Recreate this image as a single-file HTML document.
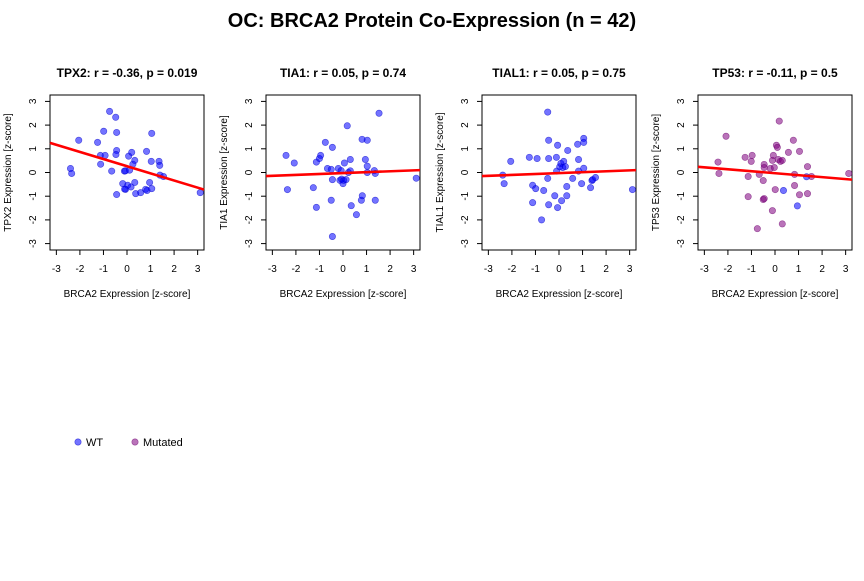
<!DOCTYPE html>
<html><head><meta charset="utf-8"><style>
body{margin:0;background:#fff}
svg{font-family:"Liberation Sans",Arial,sans-serif}
</style></head><body>
<svg id="chart" width="864" height="576">
<text x="432" y="27" text-anchor="middle" font-size="20" font-weight="bold">OC: BRCA2 Protein Co-Expression (n = 42)</text>
<g>
<circle cx="78" cy="442" r="3.2" fill="rgba(0,0,255,0.55)" stroke="rgba(0,0,200,0.6)" stroke-width="0.6"/>
<text x="86" y="446" font-size="11">WT</text>
<circle cx="135" cy="442" r="3.2" fill="rgba(128,0,128,0.55)" stroke="rgba(110,0,110,0.6)" stroke-width="0.6"/>
<text x="143" y="446" font-size="11">Mutated</text>
</g>
</svg>
<script>
const genes = ["TPX2","TIA1","TIAL1","TP53"];
const titles = ["TPX2: r = -0.36, p = 0.019","TIA1: r = 0.05, p = 0.74","TIAL1: r = 0.05, p = 0.75","TP53: r = -0.11, p = 0.5"];
const ticks = [-3,-2,-1,0,1,2,3];
const p1x = [-2.4,-2.35,-2.05,-1.25,-1.13,-1.12,-0.93,-0.99,-0.74,-0.65,-0.48,-0.44,-0.44,-0.47,-0.44,-0.18,-0.11,-0.07,-0.06,0.03,0.07,0.11,0.17,0.2,0.25,0.33,0.33,0.37,0.58,0.79,0.85,0.83,0.96,1.03,1.05,1.05,1.36,1.39,1.4,1.55,3.11,-0.1];
const p1y = [0.17,-0.04,1.36,1.27,0.72,0.35,0.72,1.74,2.58,0.06,2.33,1.69,0.93,0.76,-0.93,-0.47,0.06,0.07,-0.71,-0.54,0.69,0.1,-0.61,0.85,0.35,0.51,-0.42,-0.89,-0.85,-0.71,-0.76,0.89,-0.42,0.47,1.65,-0.68,0.47,0.3,-0.11,-0.17,-0.85,-0.7];
const p2x = [-2.42,-2.36,-2.07,-1.26,-1.13,-1.13,-1.0,-0.95,-0.75,-0.66,-0.5,-0.45,-0.45,-0.5,-0.45,-0.2,-0.13,-0.08,-0.06,0,0.03,0.06,0.13,0.18,0.23,0.31,0.31,0.35,0.57,0.78,0.82,0.81,0.95,1.03,1.03,1.03,1.33,1.37,1.37,1.53,3.11];
const p2y = [0.72,-0.72,0.4,-0.64,0.44,-1.47,0.59,0.72,1.27,0.17,0.13,1.06,-0.3,-1.17,-2.7,0.17,-0.33,0.08,-0.28,-0.47,-0.33,0.4,-0.3,1.97,0,0.55,0.07,-1.4,-1.78,-1.17,-0.98,1.4,0.55,0.27,0,1.36,0.08,-0.04,-1.17,2.5,-0.24];
const p3x = [-2.39,-2.33,-2.05,-1.26,-1.12,-1.12,-0.99,-0.93,-0.74,-0.65,-0.48,-0.48,-0.44,-0.44,-0.44,-0.18,-0.11,-0.1,-0.06,-0.06,0.03,0.08,0.11,0.16,0.2,0.27,0.33,0.33,0.37,0.58,0.79,0.83,0.83,0.96,1.05,1.05,1.05,1.34,1.4,1.43,1.55,3.12];
const p3y = [-0.11,-0.47,0.47,0.64,-0.54,-1.27,-0.68,0.59,-2.0,-0.76,2.55,-0.25,1.36,0.59,-1.36,-0.98,0.64,0.06,1.15,-1.48,0.24,0.38,-1.19,0.21,0.47,0.25,-0.59,-0.98,0.93,-0.25,1.19,0.55,0.06,-0.47,1.44,1.27,0.18,-0.64,-0.34,-0.3,-0.21,-0.72];
const p4x = [-2.42,-2.38,-2.08,-1.27,-1.14,-1.14,-1.01,-0.97,-0.75,-0.67,-0.5,-0.5,-0.46,-0.46,-0.46,-0.2,-0.11,-0.07,-0.11,-0.03,0.01,0.06,0.1,0.14,0.18,0.23,0.31,0.31,0.57,0.78,0.83,0.83,1.04,1.04,1.38,1.38,1.55,3.13,0.36,0.95,1.34];
const p4y = [0.44,-0.04,1.53,0.64,-0.17,-1.02,0.47,0.72,-2.37,-0.08,-0.34,-1.14,0.34,0.21,-1.1,0.17,0.51,0.72,-1.61,0.21,-0.72,1.15,1.06,0.55,2.17,0.47,0.51,-2.17,0.85,1.36,-0.08,-0.55,0.89,-0.94,0.25,-0.89,-0.17,-0.04,-0.76,-1.41,-0.18];
const p4mut = [1,1,1,1,1,1,1,1,1,1,1,1,1,1,1,1,1,1,1,1,1,1,1,1,1,1,1,1,1,1,1,1,1,1,1,1,1,1,0,0,0];
const fitLeft = [1.25,-0.15,-0.15,0.24];
const fitRight = [-0.72,0.1,0.1,-0.3];
const xs=[p1x,p2x,p3x,p4x], ys=[p1y,p2y,p3y,p4y];
const NS="http://www.w3.org/2000/svg";
const svg=document.getElementById('chart');
const LIM=3.27, W=154, H=155, TOP=95;
function mk(tag,attrs,parent){const e=document.createElementNS(NS,tag);for(const k in attrs)e.setAttribute(k,attrs[k]);parent.appendChild(e);return e;}
for(let p=0;p<4;p++){
  const L=50+216*p;
  const sx=v=>L+(v+LIM)/(2*LIM)*W;
  const sy=v=>TOP+(LIM-v)/(2*LIM)*H;
  const g=mk('g',{},svg);
  
  
  const t=mk('text',{x:L+W/2,y:77,'text-anchor':'middle','font-size':12,'font-weight':'bold'},g);
  t.textContent=titles[p];
  
  
  const box=mk('rect',{x:L,y:TOP,width:W,height:H,fill:'none',stroke:'#000','stroke-width':1},g);
  
  
  for(const tv of ticks){
    const x=sx(tv);
    mk('line',{x1:x,x2:x,y1:TOP+H,y2:TOP+H+5,stroke:'#000'},g);
    const tx=mk('text',{x:x,y:272,'text-anchor':'middle','font-size':10},g);
    tx.textContent=tv;
    
    
    const y=sy(tv);
    mk('line',{x1:L-5,x2:L,y1:y,y2:y,stroke:'#000'},g);
    const ty=mk('text',{x:0,y:0,'text-anchor':'middle','font-size':10,transform:`translate(${L-14},${y}) rotate(-90)`},g);
    ty.textContent=tv;
    
    
  }
  const xl=mk('text',{x:L+W/2,y:297,'text-anchor':'middle','font-size':10},g);
  xl.textContent='BRCA2 Expression [z-score]';
  
  
  const yl=mk('text',{x:0,y:0,'text-anchor':'middle','font-size':10,transform:`translate(${L-39},${TOP+H/2}) rotate(-90)`},g);
  yl.textContent=genes[p]+' Expression [z-score]';
  
  
  for(let i=0;i<xs[p].length;i++){
    const mut = p===3 && p4mut[i]===1;
    const c=mk('circle',{cx:sx(xs[p][i]),cy:sy(ys[p][i]),r:3.2,fill:mut?'rgba(128,0,128,0.55)':'rgba(0,0,255,0.55)',stroke:mut?'rgba(110,0,110,0.6)':'rgba(0,0,200,0.6)','stroke-width':0.6},g);
    
    
  }
  const ln=mk('line',{x1:sx(-LIM),y1:sy(fitLeft[p]),x2:sx(LIM),y2:sy(fitRight[p]),stroke:'#ff0000','stroke-width':2.6},g);
  
  
}
</script>
</body></html>
